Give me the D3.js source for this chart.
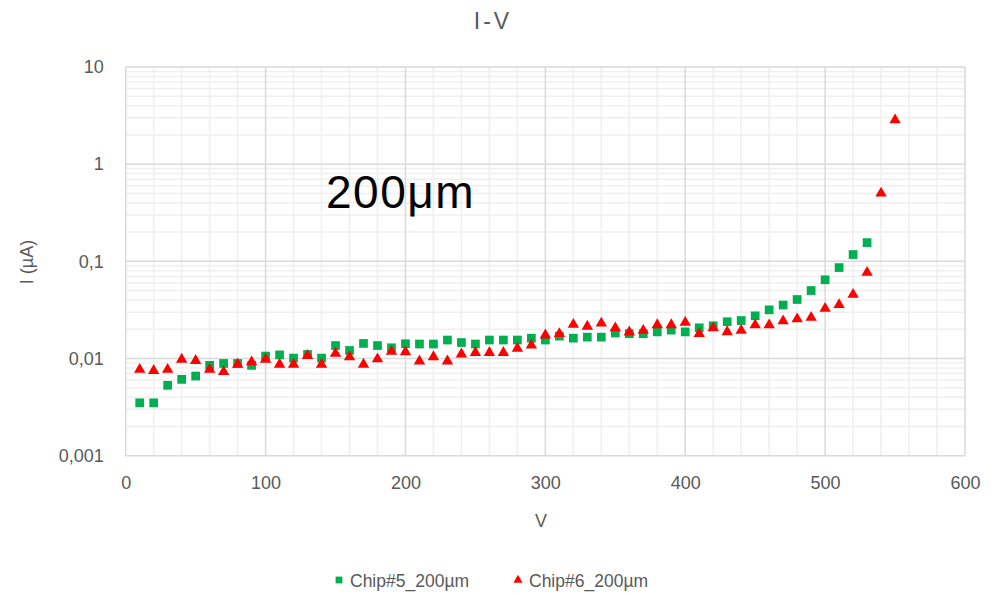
<!DOCTYPE html>
<html>
<head>
<meta charset="utf-8">
<script src="https://cdn.jsdelivr.net/npm/d3@7"></script>
<style>
  html, body { margin: 0; padding: 0; background: #fff; }
  svg { display: block; }
  text { font-family: "Liberation Sans", Arial, sans-serif; }
</style>
</head>
<body>
<div id="chart"></div>
<script>
// Bias voltage (V) for each measurement
const voltsChip5 = [10,20,30,40,50,60,70,80,90,100,110,120,130,140,150,160,170,180,190,200,
  210,220,230,240,250,260,270,280,290,300,310,320,330,340,350,360,370,380,390,400,
  410,420,430,440,450,460,470,480,490,500,510,520,530];
const voltsChip6 = [10,20,30,40,50,60,70,80,90,100,110,120,130,140,150,160,170,180,190,200,
  210,220,230,240,250,260,270,280,290,300,310,320,330,340,350,360,370,380,390,400,
  410,420,430,440,450,460,470,480,490,500,510,520,530,540,550];

// Leakage current (µA)
const currentChip5 = [0.0035,0.0035,0.0053,0.0061,0.0066,0.0085,0.0089,0.0089,0.0085,0.0106,
  0.0109,0.0101,0.0110,0.0101,0.0136,0.0121,0.0143,0.0136,0.0129,0.0142,
  0.0141,0.0141,0.0155,0.0146,0.0141,0.0155,0.0155,0.0155,0.0162,0.0155,
  0.0170,0.0162,0.0166,0.0166,0.0183,0.0180,0.0180,0.0188,0.0196,0.0188,
  0.0207,0.0217,0.0239,0.0246,0.0275,0.0317,0.0355,0.0405,0.0501,0.0646,
  0.0863,0.1175,0.156];
const currentChip6 = [0.0077,0.0075,0.0077,0.0098,0.0095,0.0077,0.0073,0.0087,0.0092,0.0098,
  0.0087,0.0087,0.0107,0.0087,0.0113,0.0104,0.0087,0.0099,0.0118,0.0117,
  0.0094,0.0104,0.0094,0.0111,0.0115,0.0115,0.0115,0.0127,0.0137,0.0174,
  0.0180,0.0224,0.0214,0.0231,0.0206,0.0187,0.0194,0.0222,0.0222,0.0235,
  0.0180,0.0206,0.0188,0.0194,0.0221,0.0221,0.0243,0.0255,0.0264,0.0327,
  0.0357,0.0456,0.0767,0.502,2.85];

const seriesNames = ["Chip#5_200\u00b5m", "Chip#6_200\u00b5m"];
const xTicks = [0,100,200,300,400,500,600];
const yTicks = [0.001,0.01,0.1,1,10];
const yTickLabels = ["0,001","0,01","0,1","1","10"];

const W = 1002, H = 594;
const margin = { left: 125.7, right: W - 965, top: 67, bottom: H - 455.7 };

const svg = d3.select("#chart").append("svg").attr("width", W).attr("height", H);

const x = d3.scaleLinear().domain([0, 600]).range([margin.left, W - margin.right]);
const y = d3.scaleLog().domain([0.001, 10]).range([H - margin.bottom, margin.top]);

const labelColor = "#595959";

// Minor gridlines
const minorX = d3.range(0, 601, 20).filter(v => v % 100 !== 0);
const minorY = [];
[0.001, 0.01, 0.1, 1].forEach(d => { for (let k = 2; k <= 9; k++) minorY.push(d * k); });

const grid = svg.append("g");
grid.selectAll(".mx").data(minorX).join("line")
  .attr("x1", d => x(d)).attr("x2", d => x(d))
  .attr("y1", y(10)).attr("y2", y(0.001))
  .attr("stroke", "#efefef").attr("stroke-width", 1.5);
grid.selectAll(".my").data(minorY).join("line")
  .attr("x1", x(0)).attr("x2", x(600))
  .attr("y1", d => y(d)).attr("y2", d => y(d))
  .attr("stroke", "#efefef").attr("stroke-width", 1.5);

// Major gridlines
grid.selectAll(".gx").data(xTicks).join("line")
  .attr("x1", d => x(d)).attr("x2", d => x(d))
  .attr("y1", y(10)).attr("y2", y(0.001))
  .attr("stroke", "#d9d9d9").attr("stroke-width", 1.5);
grid.selectAll(".gy").data(yTicks).join("line")
  .attr("x1", x(0)).attr("x2", x(600))
  .attr("y1", d => y(d)).attr("y2", d => y(d))
  .attr("stroke", "#d9d9d9").attr("stroke-width", 1.5);

// Axes (labels only)
const xAxis = svg.append("g")
  .attr("transform", `translate(0,${y(0.001)})`)
  .call(d3.axisBottom(x).tickValues(xTicks).tickSize(0).tickPadding(21).tickFormat(d3.format("d")));
xAxis.select(".domain").remove();
xAxis.selectAll("text").attr("fill", labelColor).attr("font-size", 18);

const yAxis = svg.append("g")
  .attr("transform", `translate(${x(0)},0)`)
  .call(d3.axisLeft(y).tickValues(yTicks).tickSize(0).tickPadding(22)
    .tickFormat((d, i) => yTickLabels[i]));
yAxis.select(".domain").remove();
yAxis.selectAll("text").attr("fill", labelColor).attr("font-size", 18);

// Titles
svg.append("text").attr("x", 493).attr("y", 29).attr("text-anchor", "middle")
  .attr("fill", labelColor).attr("font-size", 23).attr("letter-spacing", 3).text("I-V");
svg.append("text").attr("x", 541).attr("y", 527).attr("text-anchor", "middle")
  .attr("fill", labelColor).attr("font-size", 18).text("V");
svg.append("text").attr("transform", "translate(33,262) rotate(-90)").attr("text-anchor", "middle")
  .attr("fill", labelColor).attr("font-size", 18).text("I (\u00b5A)");

// Annotation
svg.append("text").attr("x", 326).attr("y", 208).attr("fill", "#000")
  .attr("font-size", 46).attr("letter-spacing", 1.5).text("200\u03bcm");

// Data markers
const plot = svg.append("g");
const chip5 = voltsChip5.map((v, i) => ({ v, c: currentChip5[i] }));
const chip6 = voltsChip6.map((v, i) => ({ v, c: currentChip6[i] }));

const sq = d3.symbol().type(d3.symbolSquare).size(76);
const tri = d3.symbol().type(d3.symbolTriangle).size(56);

plot.selectAll(".s5").data(chip5).join("path")
  .attr("d", sq)
  .attr("transform", d => `translate(${x(d.v)},${y(d.c)})`)
  .attr("fill", "#00b050");

plot.selectAll(".s6").data(chip6).join("path")
  .attr("d", tri)
  .attr("transform", d => `translate(${x(d.v)},${y(d.c)})`)
  .attr("fill", "#ff0000");

// Legend
const legend = svg.append("g");
legend.append("path").attr("d", d3.symbol().type(d3.symbolSquare).size(46))
  .attr("transform", "translate(339,580)").attr("fill", "#00b050");
legend.append("text").attr("x", 350).attr("y", 587).attr("fill", labelColor)
  .attr("font-size", 17.5).text(seriesNames[0]);
legend.append("path").attr("d", d3.symbol().type(d3.symbolTriangle).size(36))
  .attr("transform", "translate(518,580)").attr("fill", "#ff0000");
legend.append("text").attr("x", 529).attr("y", 587).attr("fill", labelColor)
  .attr("font-size", 17.5).text(seriesNames[1]);
</script>
</body>
</html>
